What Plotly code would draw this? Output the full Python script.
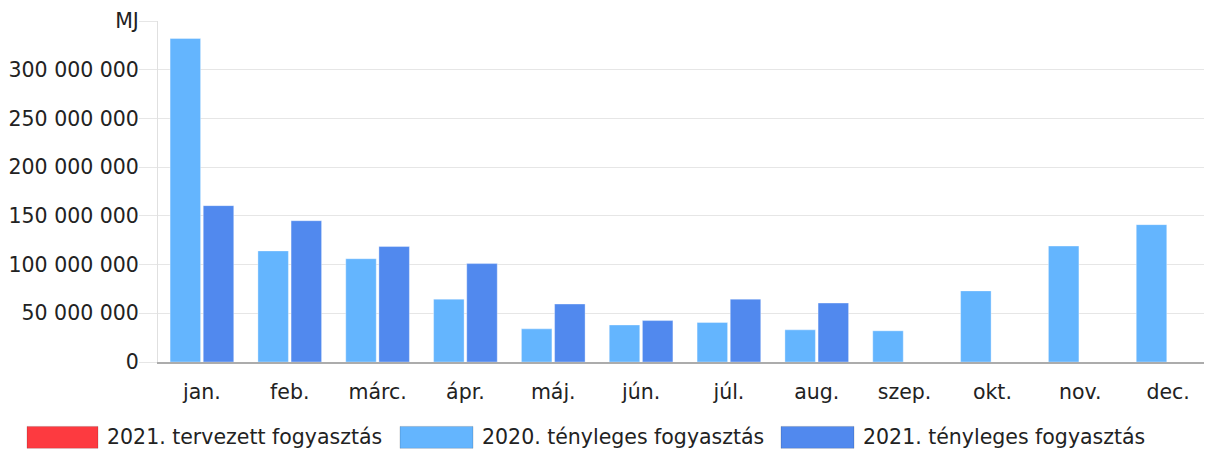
import plotly.graph_objects as go

# ---- data ----
months = ["jan.", "feb.", "márc.", "ápr.", "máj.", "jún.", "júl.", "aug.", "szep.", "okt.", "nov.", "dec."]
actual_2020 = [332e6, 114e6, 106e6, 64.5e6, 34e6, 38e6, 40.5e6, 33e6, 32e6, 73e6, 119e6, 141e6]
actual_2021 = [160.5e6, 145e6, 118.5e6, 101e6, 59.5e6, 42.5e6, 64.5e6, 60.5e6, None, None, None, None]
planned_2021 = [None] * 12  # no planned values shown

series_names = ["2021. tervezett fogyasztás", "2020. tényleges fogyasztás", "2021. tényleges fogyasztás"]
series_colors = ["#fd3a40", "#64b5fe", "#5189ee"]
y_unit = "MJ"
y_max = 350e6

# ---- layout geometry (pixels; page body has an 8px margin) ----
OFF = 8
W, H = 1212 - OFF, 450 - OFF
ML, MR, MT, MB = 158 - OFF, 0, 21 - OFF, 87.5
PW = W - ML - MR
PH = H - MT - MB


def px_x(px):
    return (px - OFF - ML) / PW


def px_y(py):
    return (H - MB - (py - OFF)) / PH


font = dict(family="DejaVu Sans", size=20.5, color="#222222")

fig = go.Figure()
fig.add_trace(go.Bar(x=months, y=actual_2020, name=series_names[1],
                     marker=dict(color=series_colors[1], line=dict(color="rgba(255,255,255,0.35)", width=1))))
fig.add_trace(go.Bar(x=months, y=actual_2021, name=series_names[2],
                     marker=dict(color=series_colors[2], line=dict(color="rgba(255,255,255,0.35)", width=1))))

# custom legend (wide colour swatches)
legend_rects = [(27, 98), (400, 473), (781, 854)]
shapes = []
annotations = []
for (x0, x1), name, col in zip(legend_rects, series_names, series_colors):
    shapes.append(dict(type="rect", xref="paper", yref="paper",
                       x0=px_x(x0), x1=px_x(x1), y0=px_y(449), y1=px_y(427),
                       fillcolor=col, line=dict(color="rgba(0,0,0,0.15)", width=1)))
    annotations.append(dict(text=name, xref="paper", yref="paper", x=px_x(x1 + 7), y=px_y(438),
                            xanchor="left", yanchor="middle", showarrow=False, font=font))

fig.update_layout(
    width=W, height=H,
    margin=dict(l=ML, r=MR, t=MT, b=MB),
    paper_bgcolor="white", plot_bgcolor="white",
    barmode="group", bargap=0.245, bargroupgap=0.08,
    showlegend=False,
    separators=", ",
    font=font,
    shapes=shapes,
    annotations=annotations,
)
fig.update_xaxes(showgrid=False, showline=True, linecolor="#acacac", linewidth=2,
                 ticks="", ticklabelstandoff=10, tickfont=font)
fig.update_yaxes(range=[0, y_max], dtick=50e6, tickformat=",d", labelalias={"350 000 000": y_unit},
                 showgrid=True, gridcolor="#e6e6e6",
                 gridwidth=1, zeroline=False, showline=True, linecolor="#e0e0e0", linewidth=1,
                 ticks="outside", ticklen=18, tickcolor="#e6e6e6", ticklabelstandoff=-4, tickfont=font)

fig.write_html("out.html")
